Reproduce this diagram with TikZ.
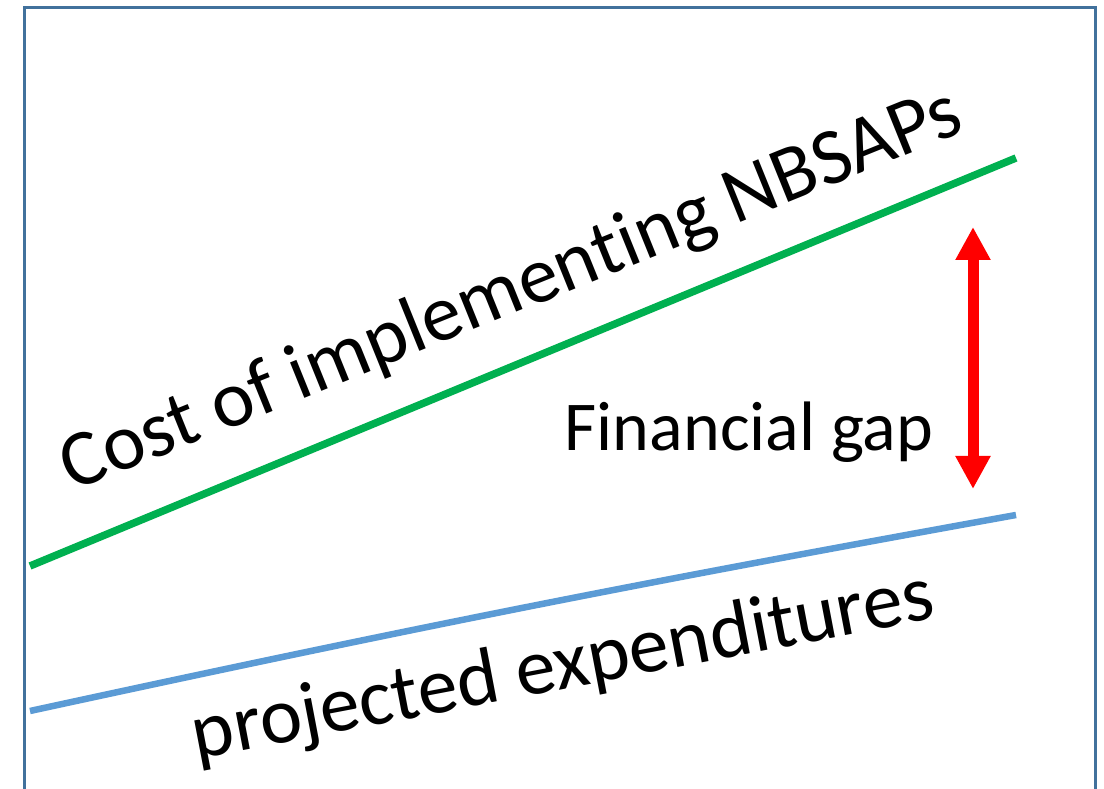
\documentclass[tikz,border=0pt]{standalone}
\usepackage{fontspec}
\setmainfont{Carlito}[Ligatures={NoCommon}]
\usepackage{tikz}
\usetikzlibrary{arrows.meta}
\definecolor{framecol}{HTML}{41719C}
\definecolor{costcol}{HTML}{00B050}
\definecolor{spendcol}{HTML}{5B9BD5}
\definecolor{gapcol}{HTML}{FF0000}

\begin{document}
\begin{tikzpicture}[x=1pt,y=1pt,
    frame/.style={draw=framecol,line width=2.6pt},
    trend/.style={line width=7.5pt},
    biglabel/.style={font=\fontsize{80}{96}\selectfont,inner sep=0pt},
    gaplabel/.style={font=\fontsize{70}{84}\selectfont,inner sep=0pt},
    gaparrow/.style={draw=gapcol,line width=11pt,
      {Triangle[width=33pt,length=33pt]}-{Triangle[width=33pt,length=33pt]}}]
\clip (0,0) rectangle (1104,789);
\fill[white] (0,0) rectangle (1104,789);
\draw[frame] (24.5,-20) rectangle (1095.5,781.5);

% cost and expenditure lines
\coordinate (coststart) at (30,223);
\coordinate (costend) at (1016,631);
\coordinate (spendstart) at (30,78);
\coordinate (spendend) at (1016,274);
\draw[trend,costcol] (coststart) -- (costend);
\draw[trend,spendcol,line width=6.5pt] (spendstart) to[bend left=1] (spendend);

% labels (kern keeps t and i apart)
\node[biglabel,rotate=22] (costlabel) at (512,497) {Cost of implement\kern0pt ing NBSAPs};
\node[biglabel,rotate=10.8] (spendlabel) at (563,121) {projected expendit\kern0pt ures};
\node[gaplabel,anchor=base] (gaplabel) at (749,338) {Financial gap};

% gap arrow
\coordinate (gaptop) at (973,562);
\coordinate (gapbot) at (973,300);
\draw[gaparrow] (gapbot) -- (gaptop);
\end{tikzpicture}
\end{document}
